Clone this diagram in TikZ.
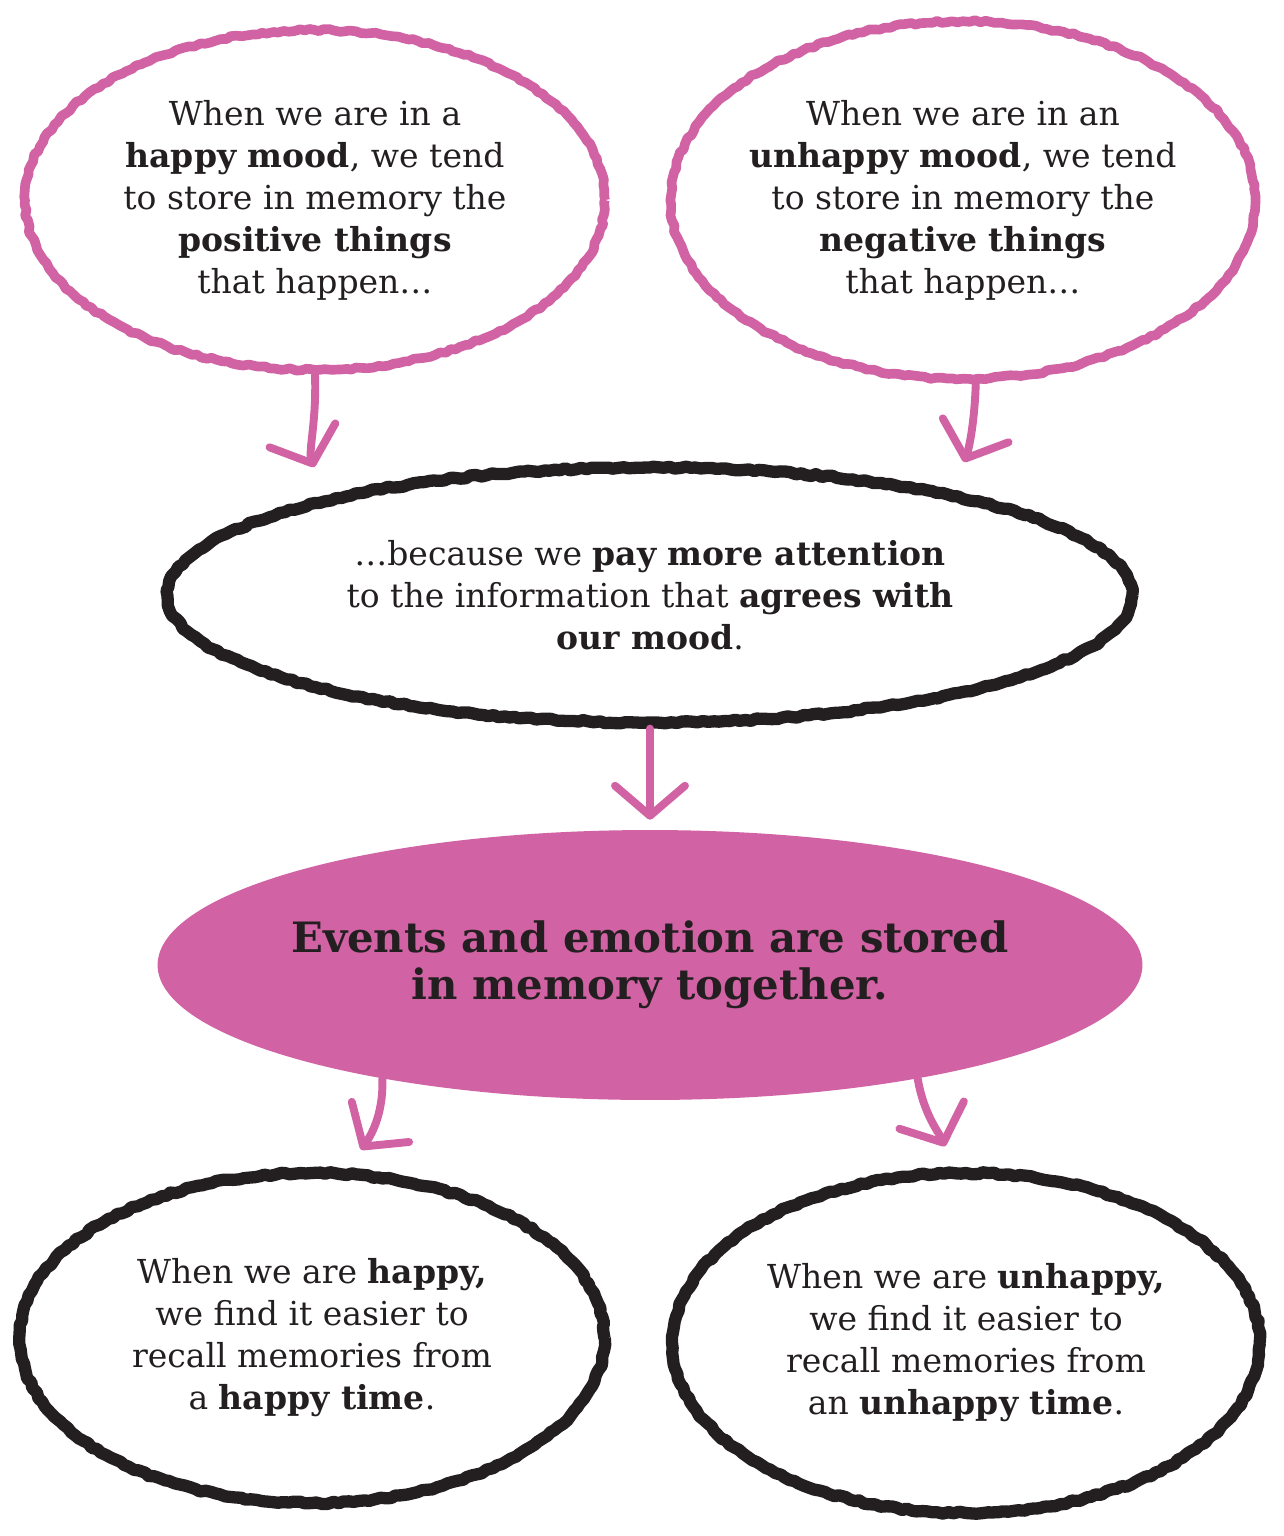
\documentclass[tikz,border=0pt]{standalone}
\usepackage{fontspec}
\setmainfont{DejaVu Serif}
\usetikzlibrary{shapes.geometric,arrows.meta,decorations.pathmorphing}
\definecolor{moodpink}{HTML}{D162A4}
\definecolor{ink}{HTML}{231F20}
\tikzset{
  bubble/.style={ellipse, draw, line width=5.5pt, line join=round, align=center, text=ink,
    inner xsep=-1cm, inner ysep=0pt, font=\fontsize{18.8}{23.9}\selectfont,
    decorate, decoration={random steps, segment length=3pt, amplitude=0.7pt}},
  pinkbubble/.style={bubble, draw=moodpink},
  blackbubble/.style={bubble, draw=ink, line width=7pt},
  moodarrow/.style={moodpink, line width=4.5pt, line cap=round, -{Straight Barb[length=6mm,width=14mm,round]}}
}
\begin{document}
\begin{tikzpicture}[x=0.02cm,y=-0.02cm]
  \useasboundingbox (0,0) rectangle (1284,1536);
  \node[pinkbubble, minimum width=11.6cm, minimum height=6.8cm] (hapL) at (315,200)
    {When we are in a\\ \textbf{happy mood}, we tend\\ to store in memory the\\ \textbf{positive things}\\ that happen…};
  \node[pinkbubble, minimum width=11.7cm, minimum height=7.15cm] (hapR) at (963,200)
    {When we are in an\\ \textbf{unhappy mood}, we tend\\ to store in memory the\\ \textbf{negative things}\\ that happen…};
  \node[blackbubble, minimum width=19.3cm, minimum height=5.1cm] (mid) at (650,595)
    {…because we \textbf{pay more attention}\\ to the information that \textbf{agrees with}\\ \textbf{our mood}.};
  \node[ellipse, fill=moodpink, text=ink, align=center, inner xsep=-2cm, inner ysep=0pt,
    minimum width=19.7cm, minimum height=5.4cm,
    font=\fontsize{23.8}{26.8}\selectfont\bfseries] (pinkE) at (650,965)
    {Events and emotion are stored\\ in memory together.};
  \node[blackbubble, minimum width=11.7cm, minimum height=6.6cm] (botL) at (312,1338)
    {When we are \textbf{happy,}\\ we find it easier to\\ recall memories from\\ a \textbf{happy time}.};
  \node[blackbubble, minimum width=11.75cm, minimum height=6.8cm] (botR) at (966,1343)
    {When we are \textbf{unhappy,}\\ we find it easier to\\ recall memories from\\ an \textbf{unhappy time}.};
  % arrows between the bubbles
  \foreach \from/\to/\o/\i/\gap in {hapL.south/mid.163/-88/110/0.6cm, hapR.-86/mid.19/-92/70/0.6cm,
      mid.south/pinkE.north/-90/90/0.2cm, pinkE.203/botL.78/-88/55/0.45cm, pinkE.-23/botR.94/-80/113/0.45cm}{
    \draw[moodarrow, shorten >=\gap] (\from) to[out=\o,in=\i] (\to);}
\end{tikzpicture}
\end{document}
